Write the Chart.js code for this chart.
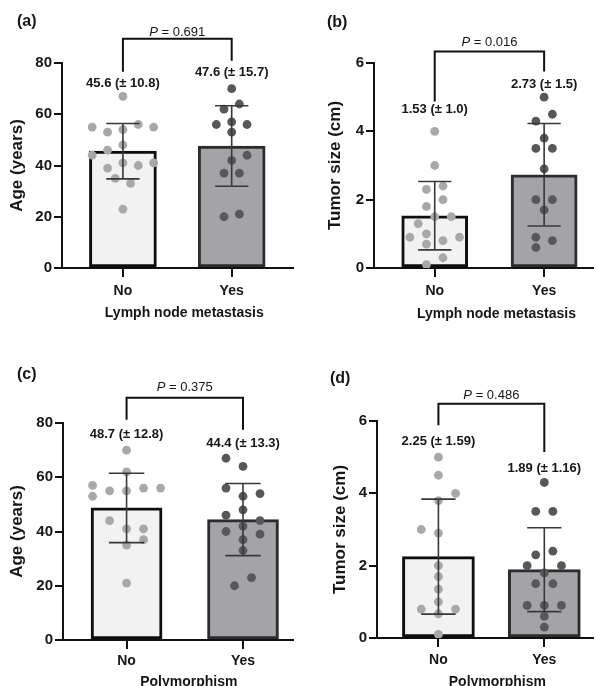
<!DOCTYPE html>
<html><head><meta charset="utf-8">
<script src="https://cdn.jsdelivr.net/npm/chart.js@4.4.1/dist/chart.umd.min.js"></script>
<style>
html,body{margin:0;padding:0;background:#fff;overflow:hidden;width:597px;height:686px;position:relative;}
canvas{position:absolute;display:block;}
</style></head><body>
<canvas id="ca"></canvas><canvas id="cb"></canvas><canvas id="cc"></canvas><canvas id="cd"></canvas>
<script>
// ---------------- DATA ----------------
const categories = ['No', 'Yes'];
const panelLabels = ['(a)', '(b)', '(c)', '(d)'];
const yTitles = ['Age (years)', 'Tumor size (cm)', 'Age (years)', 'Tumor size (cm)'];
const xTitles = ['Lymph node metastasis', 'Lymph node metastasis', 'Polymorphism', 'Polymorphism'];
const pValues = ['0.691', '0.016', '0.375', '0.486'];
const yTicksAge = [0, 20, 40, 60, 80];
const yTicksSize = [0, 2, 4, 6];

const meanA = [45.6, 47.6], sdA = [10.8, 15.7];
const meanB = [1.53, 2.73], sdB = [1.0, 1.5];
const meanC = [48.7, 44.4], sdC = [12.8, 13.3];
const meanD = [2.25, 1.89], sdD = [1.59, 1.16];
const meanLabelsA = ['45.6 (± 10.8)', '47.6 (± 15.7)'];
const meanLabelsB = ['1.53 (± 1.0)', '2.73 (± 1.5)'];
const meanLabelsC = ['48.7 (± 12.8)', '44.4 (± 13.3)'];
const meanLabelsD = ['2.25 (± 1.59)', '1.89 (± 1.16)'];

// individual observations (values) and their horizontal jitter rank
const ageNodeNo = [67, 55, 53, 54, 56, 55, 48, 46, 44, 41, 40, 41, 39, 35, 33, 23];
const ageNodeNoJit = [0, -4, -2, 0, 2, 4, 0, -2, -4, 0, 2, 4, -2, -1, 1, 0];
const ageNodeYes = [70, 64, 62, 56, 57, 56, 53, 44, 42, 37, 37, 20, 21];
const ageNodeYesJit = [0, 1, -1, -2, 0, 2, 0, 2, 0, -1, 1, -1, 1];
const sizeNodeNo = [4.0, 3.0, 2.3, 2.4, 1.8, 2.0, 1.3, 1.5, 1.5, 1.0, 0.9, 0.8, 0.9, 0.7, 0.3, 0.1];
const sizeNodeNoJit = [0, 0, -1, 1, -1, 1, -2, 0, 2, -1, -3, 1, 3, -1, 1, -1];
const sizeNodeYes = [5.0, 4.5, 4.3, 3.8, 3.5, 3.5, 2.9, 2.0, 2.0, 1.7, 0.9, 0.8, 0.6];
const sizeNodeYesJit = [0, 1, -1, 0, -1, 1, 0, -1, 1, 0, -1, 1, -1];
const agePolyNo = [70, 62, 57, 53, 55, 55, 56, 56, 44, 41, 41, 37, 35, 21];
const agePolyNoJit = [0, 0, -4, -4, -2, 0, 2, 4, -2, 0, 2, 2, 0, 0];
const agePolyYes = [67, 64, 56, 54, 53, 48, 46, 44, 42, 40, 39, 37, 33, 23, 20];
const agePolyYesJit = [-2, 0, -2, 2, 0, 0, -2, 2, 0, -2, 2, 0, 0, 1, -1];
const sizePolyNo = [5.0, 4.5, 4.0, 3.8, 3.0, 2.9, 2.0, 1.7, 1.35, 1.0, 0.8, 0.8, 0.67, 0.1];
const sizePolyNoJit = [0, 0, 2, 0, -2, 0, 0, 0, 0, 0, -2, 2, 0, 0];
const sizePolyYes = [4.3, 3.5, 3.5, 2.3, 2.4, 2.0, 2.0, 1.8, 1.5, 1.5, 0.9, 0.9, 0.9, 0.6, 0.3];
const sizePolyYesJit = [0, -1, 1, -1, 1, -2, 2, 0, -1, 1, -2, 0, 2, 0, 0];

// ---------------- LAYOUT / STYLE ----------------
const FONT = "'Liberation Sans', Arial, sans-serif";
const panels = [
  { id:'ca', left:0, top:0, w:297, h:330, pad:{top:63,right:4,left:0,bottom:0}, yW:62, xH:62,
    xMin:-0.56, xMax:1.56, yMax:80, yTicks:yTicksAge, bar:67, cap:0.153, jit:0.0706,
    yTitlePad:7, xTitle:{dx:7, y:313}, xTickPad:6,
    mean:meanA, sd:sdA, meanLabels:meanLabelsA, meanLabelY:[71.9, 76.2],
    no:ageNodeNo, noJ:ageNodeNoJit, yes:ageNodeYes, yesJ:ageNodeYesJit,
    bracket:{top:89.5, l:76.6, r:80.9}, pY:91.9, label:{x:17, y:22}, k:0 },
  { id:'cb', left:297, top:0, w:300, h:330, pad:{top:63,right:3,left:0,bottom:0}, yW:77, xH:62,
    xMin:-0.555, xMax:1.443, yMax:6, yTicks:yTicksSize, bar:66, cap:0.152, jit:0.0755,
    yTitlePad:28, xTitle:{dx:7, y:314}, xTickPad:5.6,
    mean:meanB, sd:sdB, meanLabels:meanLabelsB, meanLabelY:[4.63, 5.36],
    no:sizeNodeNo, noJ:sizeNodeNoJit, yes:sizeNodeYes, yesJ:sizeNodeYesJit,
    bracket:{top:6.34, l:4.87, r:5.75}, pY:6.59, label:{x:30, y:23}, k:1 },
  { id:'cc', left:0, top:340, w:297, h:360, pad:{top:83,right:4,left:0,bottom:0}, yW:63, xH:60,
    xMin:-0.546, xMax:1.426, yMax:80, yTicks:yTicksAge, bar:71, cap:0.152, jit:0.073,
    yTitlePad:7, xTitle:{dx:4, y:341.7}, xTickPad:3.3,
    mean:meanC, sd:sdC, meanLabels:meanLabelsC, meanLabelY:[75.7, 72.4],
    no:agePolyNo, noJ:agePolyNoJit, yes:agePolyYes, yesJ:agePolyYesJit,
    bracket:{top:89.3, l:81.2, r:77.5}, pY:93.2, label:{x:17, y:35}, k:2 },
  { id:'cd', left:297, top:340, w:300, h:360, pad:{top:81,right:0,left:0,bottom:0}, yW:80, xH:62,
    xMin:-0.58, xMax:1.456, yMax:6, yTicks:yTicksSize, bar:72, cap:0.162, jit:0.081,
    yTitlePad:33, xTitle:{dx:6, y:341.7}, xTickPad:4.9,
    mean:meanD, sd:sdD, meanLabels:meanLabelsD, meanLabelY:[5.44, 4.70],
    no:sizePolyNo, noJ:sizePolyNoJit, yes:sizePolyYes, yesJ:sizePolyYesJit,
    bracket:{top:6.48, l:5.88, r:5.14}, pY:6.71, label:{x:33, y:39}, k:3 }
];

const textPlugin = {
  id: 'annot',
  afterDraw(chart, args, o) {
    const ctx = chart.ctx, xs = chart.scales.x, ys = chart.scales.y;
    ctx.save();
    ctx.fillStyle = '#161616';
    ctx.textBaseline = 'middle';
    // panel label
    ctx.font = 'bold 16px ' + FONT;
    ctx.textAlign = 'left';
    ctx.fillText(o.panelLabel, o.labelPos.x, o.labelPos.y);
    // x-axis title, centred between the two groups
    ctx.font = 'bold 14px ' + FONT;
    ctx.textAlign = 'center';
    ctx.fillText(o.xTitle, xs.getPixelForValue(0.5) + o.xTitlePos.dx, o.xTitlePos.y);
    // group mean (± SD) labels
    ctx.font = 'bold 13px ' + FONT;
    o.meanLabels.forEach((t, i) => {
      ctx.fillText(t, xs.getPixelForValue(i), ys.getPixelForValue(o.meanLabelY[i]));
    });
    // P value with italic P
    const pTxt = ' = ' + o.p;
    ctx.font = 'italic 13px ' + FONT;
    const w1 = ctx.measureText('P').width;
    ctx.font = '13px ' + FONT;
    const w2 = ctx.measureText(pTxt).width;
    const cx = xs.getPixelForValue(0.5), cy = ys.getPixelForValue(o.pY);
    const x0 = cx - (w1 + w2) / 2;
    ctx.textAlign = 'left';
    ctx.font = 'italic 13px ' + FONT;
    ctx.fillText('P', x0, cy);
    ctx.font = '13px ' + FONT;
    ctx.fillText(pTxt, x0 + w1, cy);
    ctx.restore();
  }
};

panels.forEach(P => {
  const cv = document.getElementById(P.id);
  cv.width = P.w; cv.height = P.h;
  cv.style.left = P.left + 'px'; cv.style.top = P.top + 'px';
  cv.style.width = P.w + 'px'; cv.style.height = P.h + 'px';

  const errData = i => {
    const lo = P.mean[i] - P.sd[i], hi = P.mean[i] + P.sd[i];
    return [{x:i-P.cap,y:lo},{x:i+P.cap,y:lo},{x:i,y:lo},{x:i,y:hi},{x:i-P.cap,y:hi},{x:i+P.cap,y:hi}];
  };
  const dots = (vals, jit, i) => vals.map((v, j) => ({x: i + jit[j] * P.jit, y: v}));

  new Chart(cv, {
    type: 'bar',
    data: {
      datasets: [
        { type:'bar', order:5, data: categories.map((c, i) => ({x:i, y:P.mean[i]})),
          backgroundColor:['#f2f2f2', '#a4a3a8'], borderColor:['#0e0e0e', '#2c2c2c'],
          borderWidth:3, borderSkipped:false, barThickness:P.bar },
        { type:'scatter', order:4, data: dots(P.no, P.noJ, 0), pointRadius:4.4,
          pointBackgroundColor:'#a8a8a8', pointBorderWidth:0, pointBorderColor:'rgba(0,0,0,0)' },
        { type:'scatter', order:3, data: dots(P.yes, P.yesJ, 1), pointRadius:4.4,
          pointBackgroundColor:'#58585b', pointBorderWidth:0, pointBorderColor:'rgba(0,0,0,0)' },
        { type:'line', order:2, data: errData(0), borderColor:'#383838', borderWidth:1.6,
          pointRadius:0, tension:0, fill:false, clip:false },
        { type:'line', order:2, data: errData(1), borderColor:'#383838', borderWidth:1.6,
          pointRadius:0, tension:0, fill:false, clip:false },
        { type:'line', order:1, data: [{x:0,y:P.bracket.l},{x:0,y:P.bracket.top},{x:1,y:P.bracket.top},{x:1,y:P.bracket.r}],
          borderColor:'#111', borderWidth:2, pointRadius:0, tension:0, fill:false, clip:false,
          borderJoinStyle:'miter' }
      ]
    },
    options: {
      responsive:false, animation:false, devicePixelRatio:1,
      layout:{ padding:P.pad },
      plugins:{ legend:{display:false}, tooltip:{enabled:false},
        annot:{ panelLabel:panelLabels[P.k], labelPos:P.label, meanLabels:P.meanLabels,
                meanLabelY:P.meanLabelY, p:pValues[P.k], pY:P.pY,
                xTitle:xTitles[P.k], xTitlePos:P.xTitle } },
      scales:{
        x:{ type:'linear', min:P.xMin, max:P.xMax, offset:false, bounds:'data',
            afterBuildTicks: s => { s.ticks = categories.map((c, i) => ({value:i})); },
            afterFit: s => { s.height = P.xH; },
            ticks:{ callback: v => categories[v], autoSkip:false, maxRotation:0, padding:P.xTickPad,
                    color:'#161616', font:{family:FONT, size:14, weight:'bold'} },
            grid:{ display:true, offset:false, drawOnChartArea:false, drawTicks:true, tickLength:9, color:'#111', lineWidth:2 },
            border:{ display:true, color:'#111', width:2 },
            title:{ display:false } },
        y:{ type:'linear', min:0, max:P.yMax,
            afterBuildTicks: s => { s.ticks = P.yTicks.map(v => ({value:v})); },
            afterFit: s => { s.width = P.yW; },
            ticks:{ padding:2, color:'#161616', font:{family:FONT, size:15, weight:'bold'} },
            grid:{ display:true, drawOnChartArea:false, drawTicks:true, tickLength:8, color:'#111', lineWidth:2 },
            border:{ display:true, color:'#111', width:2 },
            title:{ display:true, text:yTitles[P.k], color:'#161616', padding:{top:P.yTitlePad, bottom:0},
                    font:{family:FONT, size:17, weight:'bold'} } }
      }
    },
    plugins:[textPlugin]
  });
});
</script>
</body></html>
